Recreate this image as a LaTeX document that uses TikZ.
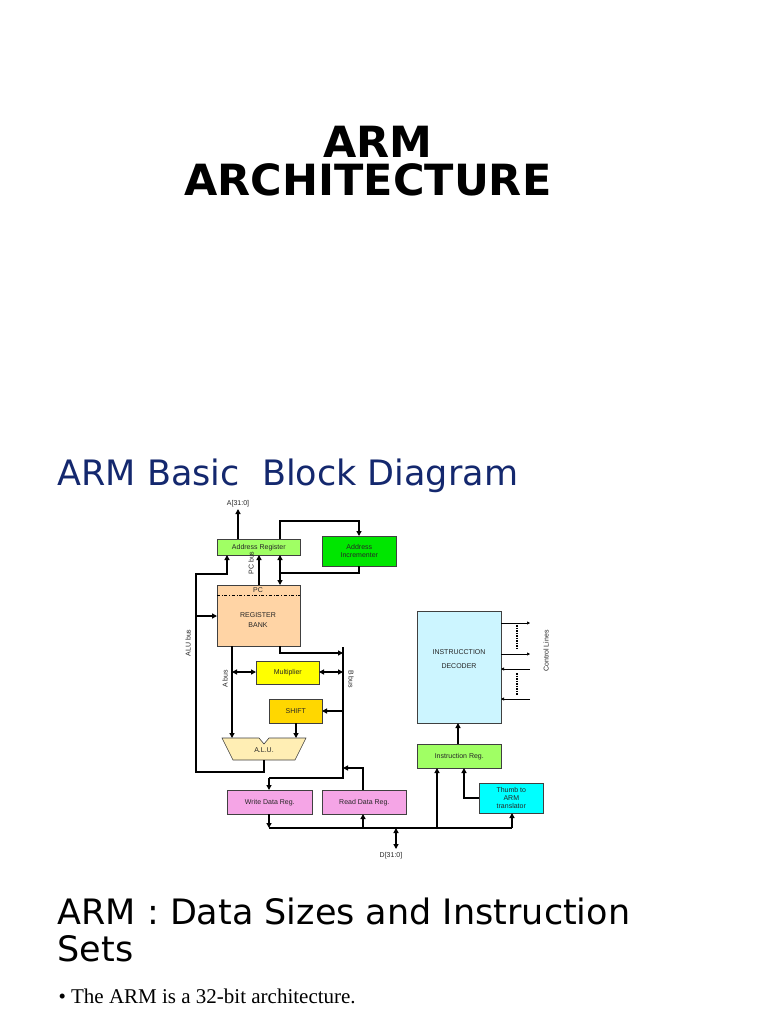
\documentclass[tikz,border=0pt]{standalone}
\usepackage{fontspec}
\setmainfont{DejaVu Sans}
\newfontfamily\arial{Liberation Sans}
\newfontfamily\serifff{Liberation Serif}
\usetikzlibrary{arrows.meta}
\definecolor{navy}{RGB}{20,40,110}
\definecolor{cyn}{RGB}{0,255,255}
\definecolor{lcy}{RGB}{204,245,255}
\definecolor{lgr}{RGB}{160,255,100}
\definecolor{grn}{RGB}{0,230,0}
\definecolor{peach}{RGB}{255,212,165}
\definecolor{yel}{RGB}{255,255,0}
\definecolor{gold}{RGB}{255,215,0}
\definecolor{pink}{RGB}{245,165,230}
\definecolor{cream}{RGB}{255,238,180}
\tikzset{
 blk/.style={draw=black!75,line width=0.6pt,inner sep=0pt},
 ln/.style={line width=1.3pt},
 ar/.style={ln,-{Triangle[length=5pt,width=5pt]}},
 dar/.style={ln,{Triangle[length=5pt,width=5pt]}-{Triangle[length=5pt,width=5pt]}},
 lab/.style={font=\arial\fontsize{7}{8}\selectfont,text=black!85,inner sep=0pt,align=center},
 thin/.style={line width=0.6pt,-{Triangle[length=3pt,width=3pt]}},
 ttl/.style={font=\bfseries\fontsize{43}{43}\selectfont,inner sep=0pt}
}
\newcommand{\bx}[6]{\node[blk,fill=#6,minimum width=#4pt-#2pt,minimum height=#5pt-#3pt,anchor=north west] (#1) at (#2,#3) {};}
\begin{document}
\begin{tikzpicture}[x=1pt,y=-1pt]
\useasboundingbox (0,0) rectangle (768,1024);
\fill[white] (0,0) rectangle (768,1024);
\node[ttl,anchor=base] (t1) at (378,158) {ARM};
\node[ttl,anchor=base] (t2) at (368,196) {ARCHITECTURE};
\node[anchor=west,text=navy,font=\fontsize{35}{35}\selectfont] (t3) at (54,476) {ARM Basic\ \ Block Diagram};
\node[anchor=west,font=\fontsize{35}{35}\selectfont] (t4) at (54,911) {ARM : Data Sizes and Instruction};
\node[anchor=west,font=\fontsize{35}{35}\selectfont] (t5) at (54,949) {Sets};
\node[anchor=west,font=\serifff\fontsize{21}{21}\selectfont] (t6) at (55,996) {\textbullet\ The ARM is a 32-bit architecture.};
% boxes
\bx{ar}{217}{539}{300}{555}{lgr}
\node[lab] at (ar) {Address Register};
\bx{inc}{322}{536}{396}{566}{grn}
\node[lab] at (inc) {Address\\Incrementer};
\bx{rb}{217}{585}{300}{646}{peach}
\node[lab] at (258,620) {REGISTER\\[2pt]BANK};
\node[lab] at (258,590) {PC};
\draw[dash dot,line width=0.5pt] (217,595) -- (300,595);
\bx{mul}{256}{661}{319}{684}{yel}
\node[lab] at (mul) {Multiplier};
\bx{sh}{269}{699}{322}{723}{gold}
\node[lab] at (sh) {SHIFT};
\path[draw=black!75,line width=0.6pt,fill=cream] (222,738) -- (259,738) -- (264,744) -- (269,738) -- (306,738) -- (295,760) -- (233,760) -- cycle;
\node[lab] at (264,750) {A.L.U.};
\bx{wd}{227}{790}{312}{814}{pink}
\node[lab] at (wd) {Write Data Reg.};
\bx{rd}{322}{790}{406}{814}{pink}
\node[lab] at (rd) {Read Data Reg.};
\bx{dec}{417}{611}{501}{723}{lcy}
\node[lab] at (459,659) {INSTRUCCTION\\[6pt]DECODER};
\bx{ir}{417}{744}{501}{768}{lgr}
\node[lab] at (ir) {Instruction Reg.};
\bx{th}{479}{783}{543}{813}{cyn}
\node[lab] at (th) {Thumb to\\ARM\\translator};
% labels
\node[lab] (la) at (238,504) {A[31:0]};
\node[lab] (ld) at (391,856) {D[31:0]};
\node[lab,rotate=90] at (188,643) {ALU bus};
\node[lab,rotate=90] at (251,563) {PC bus};
\node[lab,rotate=90] at (225,679) {A bus};
\node[lab,rotate=-90] at (351,679) {B bus};
\node[lab,rotate=90] at (546,651) {Control Lines};
% connectors
\draw[ar] (238,539) -- (238,509);
\draw[ar] (280,539) -- (280,521) -- (359,521) -- (359,536);
\draw[ar] (359,566) -- (359,573) -- (280,573) -- (280,585);
\draw[ar] (280,573) -- (280,555);
\draw[ar] (259,585) -- (259,555);
\draw[ar] (264,760) -- (264,772) -- (196,772) -- (196,574) -- (227,574) -- (227,555);
\draw[ar] (196,616) -- (217,616);
\draw[ar] (232,646) -- (232,738);
\draw[dar] (232,672) -- (256,672);
\draw[dar] (319,672) -- (343,672);
\draw[ln] (343,647) -- (343,778) -- (269,778);
\draw[ar] (269,778) -- (269,790);
\draw[ar] (280,646) -- (280,653) -- (343,653);
\draw[ar] (343,711) -- (322,711);
\draw[ar] (296,723) -- (296,738);
\draw[ar] (363,790) -- (363,768) -- (343,768);
\draw[ln] (269,828) -- (512,828);
\draw[ar] (269,814) -- (269,828);
\draw[ar] (363,828) -- (363,814);
\draw[dar] (396,828) -- (396,849);
\draw[ar] (437,828) -- (437,768);
\draw[ar] (479,798) -- (464,798) -- (464,768);
\draw[ar] (512,828) -- (512,813);
\draw[ar] (458,744) -- (458,723);
\draw[thin] (501,623) -- (530,623);
\draw[thin] (501,654) -- (530,654);
\draw[thin] (530,669) -- (501,669);
\draw[thin] (530,699) -- (501,699);
\draw[line width=1.2pt,dash pattern=on 1.5pt off 1pt] (517,625) -- (517,650);
\draw[line width=1.2pt,dash pattern=on 1.5pt off 1pt] (517,673) -- (517,695);
\end{tikzpicture}
\end{document}
